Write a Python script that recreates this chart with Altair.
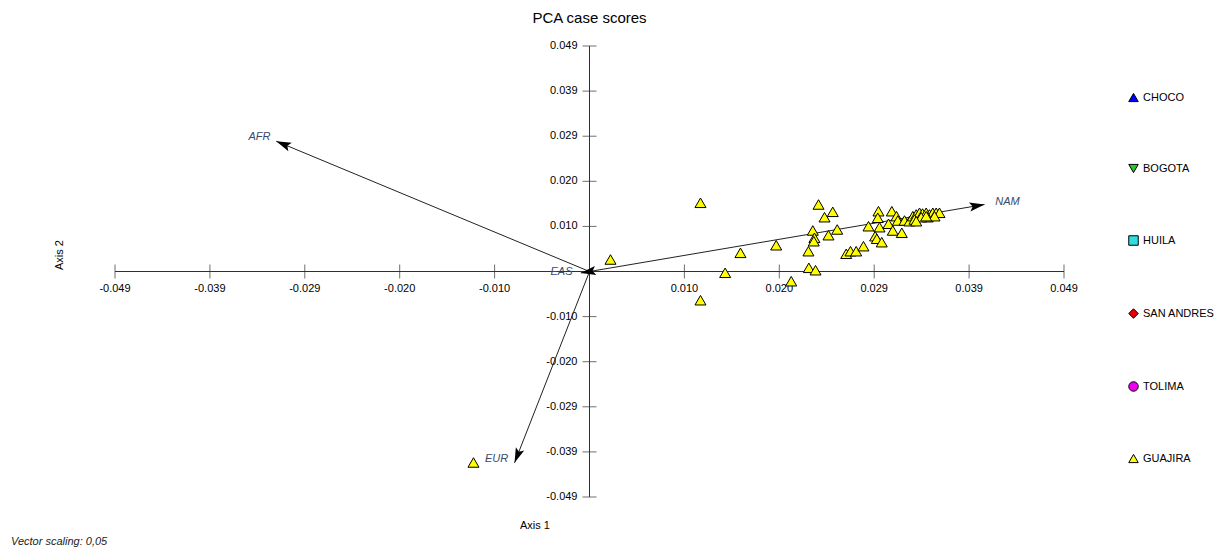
import altair as alt
import pandas as pd
import numpy as np

FONT = "Liberation Sans"

groups = ["CHOCO", "BOGOTA", "HUILA", "SAN ANDRES", "TOLIMA", "GUAJIRA"]
group_colors = ["#0000FF", "#22CC22", "#33DDDD", "#EE0000", "#EE00EE", "#FFFF00"]
group_shapes = ["triangle-up", "triangle-down", "square", "diamond", "circle", "triangle-up"]

guajira_x = [0.01146, 0.00217, 0.01401, 0.01559, 0.01928, 0.02083, 0.01146, -0.01198,
             0.02365, 0.02512, 0.02427, 0.02306, 0.02323, 0.02316, 0.02468, 0.02558,
             0.02261, 0.02651, 0.02695, 0.02754, 0.02829, 0.02265, 0.02334, 0.02881,
             0.02984, 0.02977, 0.03122, 0.02995, 0.03088, 0.03132, 0.03225, 0.02950,
             0.02967, 0.03018, 0.03170, 0.03184, 0.03253, 0.03304, 0.03339, 0.03374,
             0.03408, 0.03439, 0.03477, 0.03511, 0.03545, 0.03580, 0.03614, 0.03493,
             0.03425, 0.03563, 0.03356, 0.03477, 0.03374]
guajira_y = [0.01493, 0.00261, -0.00028, 0.00406, 0.00571, -0.00211, -0.00624, -0.04150,
             0.01456, 0.01297, 0.01180, 0.00891, 0.00732, 0.00658, 0.00789, 0.00913,
             0.00441, 0.00385, 0.00441, 0.00441, 0.00550, 0.00080, 0.00028, 0.00984,
             0.01310, 0.01167, 0.01310, 0.00963, 0.01037, 0.00891, 0.00841, 0.00767,
             0.00711, 0.00637, 0.01202, 0.01108, 0.01108, 0.01093, 0.01202, 0.01239,
             0.01276, 0.01260, 0.01276, 0.01239, 0.01276, 0.01276, 0.01276, 0.01180,
             0.01180, 0.01202, 0.01130, 0.01202, 0.01093]

vector_names = ["AFR", "NAM", "EUR", "EAS"]
vector_x = [-0.03235, 0.04079, -0.00774, -0.0009]
vector_y = [0.02831, 0.01456, -0.04157, -0.0003]
label_x = [-0.03408, 0.04316, -0.00960, -0.00289]
label_y = [0.02933, 0.01521, -0.04085, -0.0002]

tick_values = [-0.049, -0.0392, -0.0294, -0.0196, -0.0098, 0.0098, 0.0196, 0.0294, 0.0392, 0.049]
tick_labels = ["-0.049", "-0.039", "-0.029", "-0.020", "-0.010",
               "0.010", "0.020", "0.029", "0.039", "0.049"]

W, H = 949, 451
lo, hi = min(tick_values), max(tick_values)
XS = alt.Scale(domain=[lo, hi], nice=False, zero=False)
YS = alt.Scale(domain=[lo, hi], nice=False, zero=False)

axis_df = pd.DataFrame({"v": tick_values, "label": tick_labels, "zero": 0.0})
line_df = pd.DataFrame({"a": [lo], "b": [hi], "z": [0.0]})

sx = W / (hi - lo)
sy = H / (hi - lo)
vec_df = pd.DataFrame({"name": vector_names, "x": vector_x, "y": vector_y,
                       "lx": label_x, "ly": label_y, "o": 0.0})
vec_df["ang"] = (np.degrees(np.arctan2(vec_df["x"] * sx, vec_df["y"] * sy)) + 360) % 360

pts_df = pd.DataFrame({"x": guajira_x, "y": guajira_y, "group": "GUAJIRA"})

AX = "#303030"

h_line = alt.Chart(line_df).mark_rule(color=AX, strokeWidth=1).encode(
    x=alt.X("a:Q", scale=XS, axis=None), x2="b:Q", y=alt.Y("z:Q", scale=YS, axis=None))
v_line = alt.Chart(line_df).mark_rule(color=AX, strokeWidth=1).encode(
    y=alt.Y("a:Q", scale=YS, axis=None), y2="b:Q", x=alt.X("z:Q", scale=XS, axis=None))

x_ticks = alt.Chart(axis_df).mark_tick(orient="vertical", size=14, thickness=1, color=AX).encode(
    x=alt.X("v:Q", scale=XS, axis=None), y=alt.Y("zero:Q", scale=YS, axis=None))
y_ticks = alt.Chart(axis_df).mark_tick(orient="horizontal", size=14, thickness=1, color=AX).encode(
    y=alt.Y("v:Q", scale=YS, axis=None), x=alt.X("zero:Q", scale=XS, axis=None))

x_labels = alt.Chart(axis_df).mark_text(dy=17, font=FONT, fontSize=11, color="black").encode(
    x=alt.X("v:Q", scale=XS, axis=None), y=alt.Y("zero:Q", scale=YS, axis=None), text="label:N")
y_labels = alt.Chart(axis_df).mark_text(align="right", dx=-12, font=FONT, fontSize=11,
                                        color="black").encode(
    y=alt.Y("v:Q", scale=YS, axis=None), x=alt.X("zero:Q", scale=XS, axis=None), text="label:N")

shafts = alt.Chart(vec_df).mark_rule(color="#222222", strokeWidth=1).encode(
    x=alt.X("o:Q", scale=XS, axis=None), y=alt.Y("o:Q", scale=YS, axis=None),
    x2="x:Q", y2="y:Q")
heads = alt.Chart(vec_df).mark_point(shape="M0,0L-0.3,1L0,0.8L0.3,1Z", filled=True,
                                      color="black", size=900, opacity=1).encode(
    x=alt.X("x:Q", scale=XS, axis=None), y=alt.Y("y:Q", scale=YS, axis=None),
    angle=alt.Angle("ang:Q", scale=None))
vlabels = alt.Chart(vec_df).mark_text(font=FONT, fontSize=11, fontStyle="italic",
                                       color="#3b4a6b").encode(
    x=alt.X("lx:Q", scale=XS, axis=None), y=alt.Y("ly:Q", scale=YS, axis=None), text="name:N")

leg = alt.Legend(title=None, orient="none", legendX=1013, legendY=46, rowPadding=58,
                 symbolSize=90, labelFontSize=11, labelFont=FONT, labelColor="black",
                 symbolStrokeColor="black", symbolStrokeWidth=1, labelOffset=4)
points = alt.Chart(pts_df).mark_point(filled=True, size=121, stroke="black", strokeWidth=1,
                                      opacity=1).encode(
    x=alt.X("x:Q", scale=XS, axis=None), y=alt.Y("y:Q", scale=YS, axis=None),
    color=alt.Color("group:N", scale=alt.Scale(domain=groups, range=group_colors), legend=leg),
    shape=alt.Shape("group:N", scale=alt.Scale(domain=groups, range=group_shapes), legend=leg))

axis2 = alt.Chart(pd.DataFrame({"t": ["Axis 2"]})).mark_text(
    angle=270, font=FONT, fontSize=11, color="black").encode(
    text="t:N", x=alt.value(-55), y=alt.value(209))
axis1 = alt.Chart(pd.DataFrame({"t": ["Axis 1"]})).mark_text(
    font=FONT, fontSize=11, color="black").encode(
    text="t:N", x=alt.value(420), y=alt.value(480))
vscale = alt.Chart(pd.DataFrame({"t": ["Vector scaling: 0,05"]})).mark_text(
    align="left", font=FONT, fontSize=11, fontStyle="italic", color="#222222").encode(
    text="t:N", x=alt.value(-104), y=alt.value(496))

chart = alt.layer(h_line, v_line, x_ticks, y_ticks, x_labels, y_labels, shafts, heads,
                  vlabels, points, axis2, axis1, vscale).properties(
    width=W, height=H,
    title=alt.Title("PCA case scores", font=FONT, fontSize=15, fontWeight="normal",
                    anchor="middle", offset=14, color="black"),
    autosize=alt.AutoSizeParams(type="none"),
    padding={"left": 107, "top": 38, "right": 154, "bottom": 51},
).configure_view(stroke=None)

chart.save("out.html", embed_options={"renderer": "svg", "actions": False})
